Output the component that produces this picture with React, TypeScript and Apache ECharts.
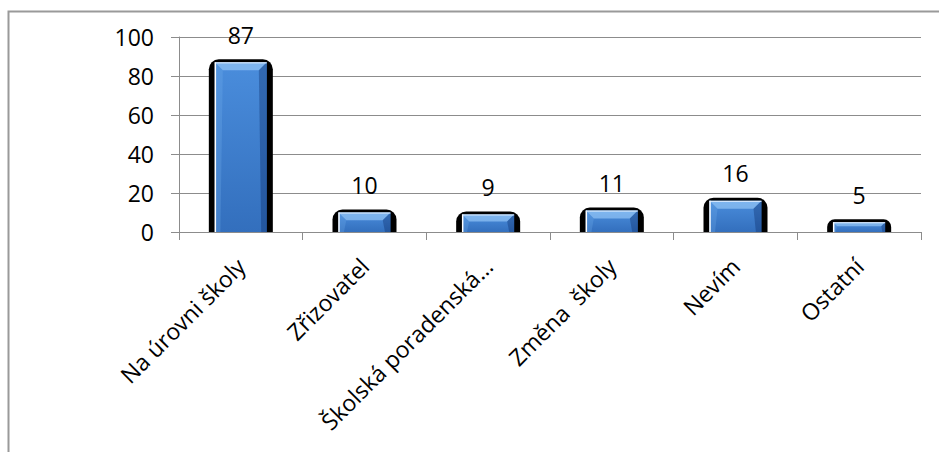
import React, { useEffect, useRef } from "react";
import * as echarts from "echarts";

const categories = ["Na úrovni školy", "Zřizovatel", "Školská poradenská…", "Změna  školy", "Nevím", "Ostatní"];
const values = [87, 10, 9, 11, 16, 5];
const yTicks = { min: 0, max: 100, interval: 20 };

const FONT = "'Open Sans', 'Noto Sans', sans-serif";

export default function App() {
  const ref = useRef<HTMLDivElement>(null);
  useEffect(() => {
    if (!ref.current) return;
    const chart = echarts.init(ref.current, undefined, { renderer: "svg" });
    const pts = values.map((v, i) => [i, v]);
    const BLUE_W = 52;
    const BLACK_W = 64;
    chart.setOption({
      animation: false,
      backgroundColor: "#fff",
      graphic: [
        {
          type: "rect",
          z: -10,
          shape: { x: 8.5, y: 11.5, width: 960, height: 480 },
          style: { fill: "none", stroke: "#9a9a9a", lineWidth: 2 },
          silent: true,
        },
      ],
      grid: { left: 179, right: 18, top: 37, bottom: 220, containLabel: false },
      xAxis: {
        type: "category",
        data: categories,
        axisLine: { show: true, lineStyle: { color: "#8c8c8c", width: 1 } },
        axisTick: { show: true, length: 8, inside: false, lineStyle: { color: "#8c8c8c" }, alignWithLabel: false },
        axisLabel: {
          rotate: 45,
          interval: 0,
          margin: 30,
          color: "#000",
          fontSize: 23,
          fontFamily: FONT,
        },
      },
      yAxis: {
        type: "value",
        min: yTicks.min,
        max: yTicks.max,
        interval: yTicks.interval,
        axisLine: { show: true, lineStyle: { color: "#8c8c8c", width: 1 } },
        axisTick: { show: true, length: 8, lineStyle: { color: "#8c8c8c" } },
        splitLine: { show: true, lineStyle: { color: "#8c8c8c", width: 1 } },
        axisLabel: { margin: 25, color: "#000", fontSize: 23, fontFamily: FONT },
      },
      series: [
        {
          type: "custom",
          z: 1,
          data: pts,
          encode: { x: 0, y: 1 },
          renderItem: (params: any, api: any) => {
            const x = api.value(0);
            const v = api.value(1);
            const top = api.coord([x, v]);
            const base = api.coord([x, 0]);
            const h = base[1] - top[1] + 3;
            const r = Math.min(10, h * 0.6);
            return {
              type: "rect",
              shape: { x: top[0] - BLACK_W / 2, y: top[1] - 3, width: BLACK_W, height: h, r: [r, r, 0, 0] },
              style: { fill: "#000" },
            };
          },
        },
        {
          type: "bar",
          z: 2,
          data: values,
          barWidth: BLUE_W,
          itemStyle: {
            color: {
              type: "linear",
              x: 0, y: 0, x2: 0, y2: 1,
              colorStops: [
                { offset: 0, color: "#4a8ddc" },
                { offset: 1, color: "#336fbd" },
              ],
            },
          },
          label: {
            show: true,
            position: "top",
            distance: 16,
            color: "#000",
            fontSize: 23,
            fontFamily: FONT,
          },
        },
        {
          type: "custom",
          z: 3,
          data: pts,
          encode: { x: 0, y: 1 },
          silent: true,
          renderItem: (params: any, api: any) => {
            const x = api.value(0);
            const v = api.value(1);
            const top = api.coord([x, v]);
            const base = api.coord([x, 0]);
            const x0 = top[0] - BLUE_W / 2;
            const x1 = top[0] + BLUE_W / 2;
            const y0 = top[1];
            const y1 = base[1];
            const h = y1 - y0;
            const b = Math.min(8, h * 0.4);
            return {
              type: "group",
              children: [
                {
                  type: "polygon",
                  shape: { points: [[x0, y0], [x1, y0], [x1 - b, y0 + b], [x0 + b, y0 + b]] },
                  style: { fill: "rgba(170,215,255,0.55)" },
                },
                {
                  type: "polygon",
                  shape: { points: [[x1, y0], [x1, y1], [x1 - b * 0.7, y1], [x1 - b, y0 + b]] },
                  style: { fill: "rgba(10,40,100,0.35)" },
                },
                {
                  type: "polygon",
                  shape: { points: [[x0, y0], [x0 + b, y0 + b], [x0 + b * 0.7, y1], [x0, y1]] },
                  style: { fill: "rgba(120,180,240,0.25)" },
                },
                {
                  type: "line",
                  shape: { x1: x0 + 0.5, y1: y0, x2: x0 + 0.5, y2: y1 },
                  style: { stroke: "#ffffff", lineWidth: 1.5 },
                },
                {
                  type: "line",
                  shape: { x1: x0, y1: y0 + 0.5, x2: x1, y2: y0 + 0.5 },
                  style: { stroke: "#e8f2ff", lineWidth: 1 },
                },
              ],
            };
          },
        },
      ],
    });
    return () => chart.dispose();
  }, []);
  return (
    <div
      ref={ref}
      style={{ position: "absolute", left: 0, top: 0, width: 939, height: 452 }}
    />
  );
}
